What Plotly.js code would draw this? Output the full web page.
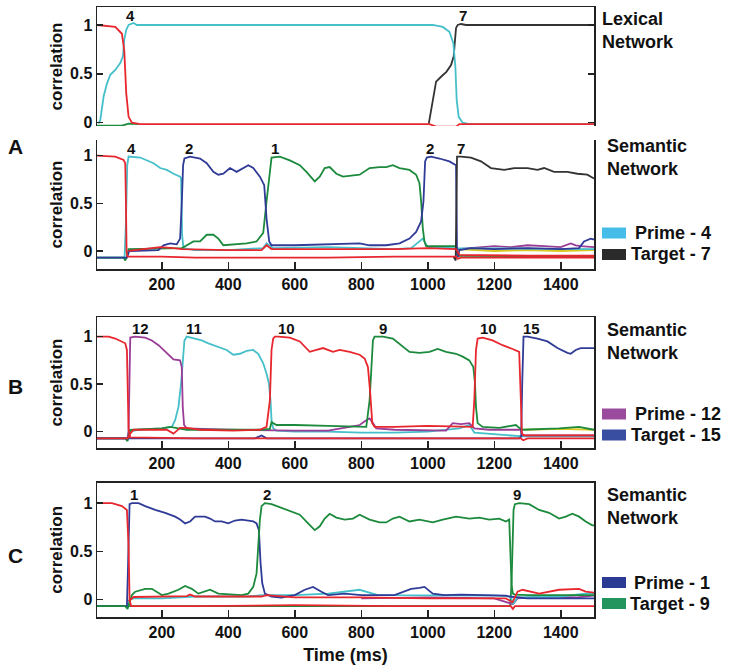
<!DOCTYPE html>
<html><head><meta charset="utf-8">
<script src="https://cdn.plot.ly/plotly-3.0.1.min.js"></script>
<style>html,body{margin:0;padding:0;background:#fff}#chart{width:729px;height:671px}</style>
</head><body><div id="chart"></div>
<script>
// ---------- DATA (time in ms, correlation values) ----------
const xTicks = [200, 400, 600, 800, 1000, 1200, 1400];
const yTicks = [0, 0.5, 1];
const yTickText = ['0', '0.5', '1'];

// Lexical network
const L_green_t = [5, 80, 90, 100, 130];
const L_green_v = [-0.03, -0.03, -0.02, -0.01, -0.014];
const L_black_t = [1003, 1010, 1017, 1025, 1040, 1056, 1070, 1078, 1082, 1085, 1090, 1100, 1115, 1500];
const L_black_v = [-0.01, 0.13, 0.30, 0.42, 0.47, 0.52, 0.59, 0.68, 0.85, 0.97, 1.0, 1.01, 1.0, 1.0];
const L_cyan_t = [10, 15, 25, 35, 45, 60, 75, 83, 87, 93, 100, 115, 125, 1015, 1045, 1065, 1077, 1083, 1087, 1093, 1105, 1125, 1500];
const L_cyan_v = [-0.01, 0.03, 0.27, 0.40, 0.49, 0.54, 0.61, 0.68, 0.85, 0.95, 1.0, 1.02, 1.0, 1.0, 0.98, 0.93, 0.81, 0.57, 0.23, 0.06, 0.0, -0.014, -0.014];
const L_red_t = [5, 40, 60, 80, 87, 93, 100, 110, 135, 1005, 1025, 1085, 1095, 1500];
const L_red_v = [1.0, 0.99, 0.98, 0.91, 0.74, 0.30, 0.06, 0.0, -0.014, -0.014, -0.04, -0.04, -0.014, -0.014];
const L_peakText = ['4', '7'];
const L_peakX = [105, 1106];

// Semantic network, A
const A_yellow_t = [1090, 1200, 1300, 1400, 1500];
const A_yellow_v = [0.02, 0.0, 0.01, 0.0, 0.01];
const A_purple_t = [1090, 1150, 1200, 1250, 1300, 1350, 1400, 1430, 1445, 1460, 1500];
const A_purple_v = [0.02, 0.04, 0.05, 0.04, 0.06, 0.05, 0.04, 0.08, 0.06, 0.05, 0.04];
const A_cyan_t = [5, 88, 92, 96, 100, 135, 175, 195, 215, 235, 255, 258, 261, 265, 300, 400, 505, 515, 535, 700, 800, 900, 950, 975, 985, 1000, 1085, 1500];
const A_cyan_v = [-0.07, -0.07, 0.3, 0.9, 0.99, 0.98, 0.92, 0.87, 0.85, 0.81, 0.78, 0.76, 0.17, 0.03, 0.01, 0.01, 0.03, 0.08, 0.03, 0.04, 0.03, 0.02, 0.03, 0.1, 0.13, 0.04, 0.03, 0.02];
const A_green_t = [5, 85, 90, 95, 100, 200, 260, 265, 270, 295, 315, 335, 355, 370, 385, 415, 455, 485, 505, 515, 523, 530, 555, 585, 615, 635, 660, 675, 690, 705, 725, 745, 795, 825, 855, 875, 895, 915, 945, 965, 975, 980, 985, 990, 995, 1085, 1090, 1500];
const A_green_v = [-0.07, -0.07, -0.1, -0.06, 0.02, 0.03, 0.03, 0.04, 0.05, 0.10, 0.10, 0.17, 0.17, 0.13, 0.06, 0.07, 0.08, 0.10, 0.19, 0.52, 0.80, 0.98, 0.99, 0.95, 0.90, 0.83, 0.73, 0.78, 0.87, 0.88, 0.81, 0.78, 0.80, 0.87, 0.88, 0.88, 0.90, 0.87, 0.85, 0.80, 0.71, 0.52, 0.24, 0.10, 0.05, 0.05, -0.05, -0.06];
const A_blue_t = [5, 95, 102, 190, 205, 225, 245, 255, 260, 264, 268, 285, 315, 335, 355, 370, 385, 405, 425, 445, 460, 475, 495, 508, 515, 523, 530, 600, 700, 795, 825, 875, 915, 945, 965, 980, 987, 992, 997, 1010, 1035, 1065, 1085, 1088, 1091, 1095, 1130, 1200, 1300, 1400, 1455, 1470, 1490, 1500];
const A_blue_v = [-0.07, -0.07, 0.0, 0.01, 0.06, 0.08, 0.07, 0.13, 0.5, 0.9, 0.97, 0.99, 0.97, 0.92, 0.83, 0.80, 0.81, 0.87, 0.83, 0.87, 0.90, 0.87, 0.78, 0.69, 0.34, 0.10, 0.06, 0.06, 0.07, 0.08, 0.06, 0.06, 0.08, 0.13, 0.2, 0.31, 0.52, 0.94, 0.98, 0.99, 0.97, 0.94, 0.90, -0.01, -0.06, 0.01, 0.03, 0.02, 0.03, 0.02, 0.03, 0.10, 0.13, 0.12];
const A_black_t = [1076, 1080, 1084, 1086, 1088, 1100, 1130, 1160, 1190, 1230, 1260, 1300, 1330, 1350, 1380, 1420, 1450, 1480, 1500];
const A_black_v = [-0.07, -0.07, -0.1, 0.5, 0.99, 0.99, 0.98, 0.94, 0.87, 0.85, 0.87, 0.87, 0.85, 0.87, 0.83, 0.83, 0.81, 0.80, 0.76];
const A_red2_t = [100, 150, 195, 235, 260, 400, 500, 515, 530, 700, 900, 1000, 1085, 1095, 1300, 1500];
const A_red2_v = [0.0, 0.02, 0.04, 0.03, 0.02, 0.01, 0.01, 0.06, 0.02, 0.02, 0.02, 0.03, 0.02, -0.04, -0.05, -0.05];
const A_red_t = [5, 60, 85, 90, 92, 94, 97, 110, 200, 300, 500, 700, 900, 1085, 1090, 1100, 1300, 1500];
const A_red_v = [1.0, 0.99, 0.955, 0.92, 0.52, -0.01, -0.06, -0.06, -0.06, -0.07, -0.07, -0.07, -0.06, -0.06, -0.08, -0.07, -0.07, -0.07];
const A_peakText = ['4', '2', '1', '2', '7'];
const A_peakX = [108, 282, 540, 1008, 1101];
const A_legend = ['Prime - 4', 'Target - 7'];

// Semantic network, B
const B_yellow_t = [1290, 1400, 1500];
const B_yellow_v = [0.02, 0.03, 0.02];
const B_cyan_t = [5, 97, 100, 130, 200, 230, 240, 250, 258, 263, 268, 275, 300, 320, 340, 370, 395, 415, 435, 455, 475, 490, 505, 515, 522, 527, 530, 535, 545, 600, 700, 800, 900, 1000, 1095, 1125, 1140, 1285, 1500];
const B_cyan_v = [-0.07, -0.07, 0.0, 0.02, 0.035, 0.05, 0.12, 0.26, 0.51, 0.75, 0.96, 1.0, 0.98, 0.96, 0.93, 0.89, 0.86, 0.81, 0.82, 0.85, 0.86, 0.82, 0.72, 0.61, 0.51, 0.33, 0.12, 0.035, 0.01, 0.0, 0.0, -0.01, -0.01, 0.0, 0.035, 0.07, -0.01, -0.05, -0.05];
const B_purple_t = [5, 97, 100, 103, 105, 120, 150, 170, 190, 205, 220, 235, 255, 260, 263, 267, 275, 400, 600, 700, 765, 795, 815, 825, 835, 845, 900, 1000, 1055, 1075, 1100, 1125, 1140, 1185, 1280, 1285, 1500];
const B_purple_v = [-0.07, -0.07, 0.0, 0.7, 0.99, 1.0, 0.99, 0.96, 0.91, 0.86, 0.81, 0.76, 0.75, 0.68, 0.26, 0.07, 0.035, 0.02, 0.01, 0.01, 0.05, 0.07, 0.12, 0.14, 0.09, 0.035, 0.02, 0.01, 0.01, 0.09, 0.08, 0.09, 0.035, 0.02, 0.02, -0.04, -0.04];
const B_green_t = [5, 90, 97, 105, 200, 225, 250, 275, 350, 415, 500, 525, 530, 545, 600, 700, 795, 815, 825, 830, 835, 840, 865, 895, 925, 945, 975, 1005, 1030, 1055, 1085, 1105, 1125, 1137, 1142, 1145, 1150, 1165, 1215, 1265, 1275, 1285, 1395, 1455, 1500];
const B_green_v = [-0.07, -0.07, -0.1, 0.02, 0.035, 0.05, 0.035, 0.02, 0.02, 0.02, 0.02, 0.03, 0.1, 0.07, 0.07, 0.06, 0.05, 0.05, 0.33, 0.68, 0.96, 1.0, 1.0, 0.98, 0.89, 0.84, 0.83, 0.84, 0.87, 0.84, 0.82, 0.79, 0.75, 0.68, 0.51, 0.26, 0.09, 0.05, 0.04, 0.07, 0.04, 0.02, 0.035, 0.05, 0.02];
const B_blue_t = [5, 480, 500, 515, 1275, 1281, 1284, 1288, 1300, 1330, 1360, 1390, 1420, 1430, 1445, 1460, 1480, 1500];
const B_blue_v = [-0.07, -0.07, -0.04, -0.07, -0.07, -0.05, 0.5, 1.0, 1.0, 0.98, 0.95, 0.88, 0.83, 0.82, 0.86, 0.88, 0.88, 0.88];
const B_red2_t = [5, 97, 105, 115, 215, 235, 255, 275, 315, 415, 495, 515, 525, 530, 535, 540, 550, 585, 615, 645, 665, 685, 715, 735, 765, 795, 810, 820, 827, 833, 840, 900, 1000, 1100, 1135, 1140, 1145, 1150, 1165, 1195, 1225, 1255, 1275, 1280, 1283, 1290, 1400, 1500];
const B_red2_v = [-0.07, -0.07, -0.02, 0.02, 0.02, -0.02, 0.04, 0.04, 0.02, 0.01, 0.02, 0.05, 0.33, 0.86, 0.98, 1.0, 1.0, 0.99, 0.95, 0.84, 0.86, 0.88, 0.84, 0.86, 0.84, 0.81, 0.77, 0.68, 0.40, 0.09, 0.05, 0.05, 0.06, 0.05, 0.05, 0.33, 0.86, 0.98, 0.99, 0.96, 0.91, 0.87, 0.84, 0.33, -0.02, -0.04, -0.04, -0.04];
const B_red_t = [5, 40, 60, 80, 90, 95, 97, 100, 105, 300, 600, 900, 1200, 1280, 1287, 1300, 1500];
const B_red_v = [1.0, 1.0, 0.98, 0.95, 0.93, 0.86, 0.33, 0.02, -0.06, -0.07, -0.07, -0.07, -0.07, -0.07, -0.09, -0.07, -0.07];
const B_peakText = ['12', '11', '10', '9', '10', '15'];
const B_peakX = [135, 298, 576, 866, 1182, 1312];
const B_legend = ['Prime - 12', 'Target - 15'];

// Semantic network, C
const C_green9_t = [5, 1248, 1252, 1255, 1258, 1262, 1275, 1305, 1335, 1365, 1395, 1415, 1435, 1455, 1475, 1495, 1500];
const C_green9_v = [-0.07, -0.07, 0.17, 0.6, 0.93, 0.99, 1.0, 0.99, 0.93, 0.9, 0.84, 0.86, 0.89, 0.86, 0.81, 0.77, 0.77];
const C_purple_t = [800, 1000, 1200, 1256, 1270, 1350, 1450, 1500];
const C_purple_v = [0.01, 0.02, 0.01, -0.05, 0.01, 0.03, 0.02, 0.04];
const C_cyan_t = [5, 97, 103, 115, 200, 300, 400, 460, 505, 600, 700, 795, 850, 900, 1000, 1100, 1200, 1250, 1256, 1270, 1400, 1475, 1500];
const C_cyan_v = [-0.07, -0.07, 0.0, 0.01, 0.01, 0.03, 0.03, 0.03, 0.045, 0.045, 0.06, 0.1, 0.045, 0.045, 0.04, 0.04, 0.04, 0.03, -0.05, 0.02, 0.03, 0.06, 0.06];
const C_blue_t = [5, 95, 98, 100, 103, 110, 130, 150, 180, 210, 240, 255, 270, 285, 300, 330, 345, 360, 380, 400, 420, 440, 460, 475, 485, 492, 497, 502, 510, 530, 560, 600, 630, 655, 680, 700, 750, 800, 900, 950, 975, 990, 1015, 1050, 1100, 1150, 1235, 1245, 1300, 1500];
const C_blue_v = [-0.07, -0.07, 0.3, 0.72, 0.99, 1.0, 1.0, 0.97, 0.93, 0.90, 0.86, 0.83, 0.79, 0.81, 0.86, 0.86, 0.84, 0.81, 0.81, 0.79, 0.82, 0.83, 0.82, 0.81, 0.79, 0.72, 0.38, 0.17, 0.06, 0.03, 0.02, 0.045, 0.1, 0.13, 0.08, 0.045, 0.06, 0.045, 0.045, 0.11, 0.12, 0.13, 0.06, 0.045, 0.05, 0.045, 0.04, 0.03, 0.01, 0.01];
const C_green_t = [5, 90, 97, 102, 110, 120, 150, 170, 185, 200, 220, 250, 270, 290, 310, 330, 345, 370, 400, 440, 460, 475, 485, 490, 495, 500, 510, 530, 560, 590, 615, 640, 660, 675, 690, 705, 725, 750, 775, 795, 825, 855, 875, 895, 915, 945, 975, 1015, 1045, 1085, 1125, 1155, 1185, 1215, 1235, 1245, 1249, 1252, 1256, 1262, 1300, 1400, 1500];
const C_green_v = [-0.07, -0.07, -0.1, -0.05, 0.045, 0.08, 0.11, 0.11, 0.08, 0.045, 0.06, 0.1, 0.14, 0.11, 0.06, 0.08, 0.1, 0.06, 0.055, 0.045, 0.06, 0.13, 0.27, 0.55, 0.83, 0.97, 1.0, 0.99, 0.95, 0.91, 0.88, 0.79, 0.72, 0.76, 0.84, 0.89, 0.85, 0.83, 0.84, 0.88, 0.83, 0.80, 0.80, 0.84, 0.86, 0.81, 0.83, 0.80, 0.83, 0.86, 0.84, 0.85, 0.83, 0.84, 0.81, 0.83, 0.5, 0.15, 0.06, 0.05, 0.045, 0.045, 0.045];
const C_red2_t = [100, 115, 275, 285, 300, 500, 515, 600, 800, 1000, 1235, 1255, 1270, 1285, 1335, 1395, 1455, 1475, 1500];
const C_red2_v = [-0.02, 0.025, 0.035, 0.05, 0.03, 0.03, 0.045, 0.02, 0.02, 0.01, 0.01, -0.03, 0.08, 0.1, 0.06, 0.1, 0.11, 0.08, 0.07];
const C_red_t = [5, 50, 80, 95, 100, 103, 108, 300, 600, 900, 1200, 1250, 1256, 1262, 1500];
const C_red_v = [1.0, 1.0, 0.97, 0.93, 0.55, -0.01, -0.07, -0.07, -0.06, -0.07, -0.07, -0.07, -0.1, -0.07, -0.07];
const C_peakText = ['1', '2', '9'];
const C_peakX = [117, 516, 1267];
const C_legend = ['Prime - 1', 'Target - 9'];

const panelLetters = ['A', 'B', 'C'];
const netLabels = ['Lexical<br>Network', 'Semantic<br>Network', 'Semantic<br>Network', 'Semantic<br>Network'];

// ---------- STYLE ----------
const COL = {red: '#e8262d', cyan: '#45bfc9', blue: '#2f3b97', green: '#1c8a3c', black: '#333333', purple: '#9a3d97', yellow: '#d9c820'};
const FONT = 'Liberation Sans, Arial, Helvetica, sans-serif';
const PL = 97, PR = 594, PT = 7, PB = 617;
const fx = px => (px - PL) / (PR - PL);
const fy = py => (PB - py) / (PB - PT);

function line(t, v, color, ax) {
  return {x: t, y: v, type: 'scatter', mode: 'lines', xaxis: 'x' + ax, yaxis: 'y' + ax,
    line: {color: color, width: 1.8}, hoverinfo: 'skip', showlegend: false};
}
const traces = [
  line(L_green_t, L_green_v, COL.green, ''),
  line(L_black_t, L_black_v, COL.black, ''),
  line(L_cyan_t, L_cyan_v, COL.cyan, ''),
  line(L_red_t, L_red_v, COL.red, ''),

  line(A_yellow_t, A_yellow_v, COL.yellow, '2'),
  line(A_purple_t, A_purple_v, COL.purple, '2'),
  line(A_cyan_t, A_cyan_v, COL.cyan, '2'),
  line(A_green_t, A_green_v, COL.green, '2'),
  line(A_blue_t, A_blue_v, COL.blue, '2'),
  line(A_black_t, A_black_v, COL.black, '2'),
  line(A_red2_t, A_red2_v, COL.red, '2'),
  line(A_red_t, A_red_v, COL.red, '2'),

  line(B_yellow_t, B_yellow_v, COL.yellow, '3'),
  line(B_cyan_t, B_cyan_v, COL.cyan, '3'),
  line(B_purple_t, B_purple_v, COL.purple, '3'),
  line(B_green_t, B_green_v, COL.green, '3'),
  line(B_blue_t, B_blue_v, COL.blue, '3'),
  line(B_red2_t, B_red2_v, COL.red, '3'),
  line(B_red_t, B_red_v, COL.red, '3'),

  line(C_green9_t, C_green9_v, COL.green, '4'),
  line(C_purple_t, C_purple_v, COL.purple, '4'),
  line(C_cyan_t, C_cyan_v, COL.cyan, '4'),
  line(C_blue_t, C_blue_v, COL.blue, '4'),
  line(C_green_t, C_green_v, COL.green, '4'),
  line(C_red2_t, C_red2_v, COL.red, '4'),
  line(C_red_t, C_red_v, COL.red, '4')
];

const tickFont = {family: FONT, size: 16, color: '#111', weight: 'bold'};
function xax(anchor, opts) {
  return Object.assign({anchor: anchor, range: [5, 1500], tickvals: xTicks, ticks: 'inside', ticklen: 7, tickwidth: 1.5,
    tickcolor: '#222', showline: true, linecolor: '#222', linewidth: 1.5, showgrid: false, zeroline: false,
    tickfont: tickFont}, opts);
}
function yax(anchor, dom, rng, mirror) {
  return {anchor: anchor, domain: dom, range: rng, tickvals: yTicks, ticktext: yTickText, ticks: 'inside', ticklen: 6,
    tickwidth: 1.5, tickcolor: '#222', showline: true, linecolor: '#222', linewidth: 1.5, mirror: mirror,
    showgrid: false, zeroline: false, tickfont: tickFont,
    title: {text: 'correlation', font: {family: FONT, size: 17, color: '#111', weight: 'bold'}, standoff: 3}};
}

const annotations = [];
function peaks(txt, xs, yv, ax) {
  txt.forEach((t, i) => annotations.push({text: t, x: xs[i], y: yv, xref: 'x' + ax, yref: 'y' + ax, showarrow: false,
    font: {family: FONT, size: 15, color: '#111', weight: 'bold'}, xanchor: 'center', yanchor: 'middle'}));
}
peaks(L_peakText, L_peakX, 1.095, '');
peaks(A_peakText, A_peakX, 1.078, '2');
peaks(B_peakText, B_peakX, 1.088, '3');
peaks(C_peakText, C_peakX, 1.086, '4');

const bigFont = {family: FONT, size: 18, color: '#111', weight: 'bold'};
const netPos = [[600, 31], [605, 157.5], [605, 341], [605, 506]];
netLabels.forEach((t, i) => annotations.push({text: t, x: fx(netPos[i][0]), y: fy(netPos[i][1]), xref: 'paper', yref: 'paper',
  showarrow: false, xanchor: 'left', yanchor: 'middle', align: 'left', font: bigFont}));

const letterPos = [[15, 146.5], [15, 386.5], [15, 555]];
panelLetters.forEach((t, i) => annotations.push({text: t, x: fx(letterPos[i][0]), y: fy(letterPos[i][1]), xref: 'paper', yref: 'paper',
  showarrow: false, xanchor: 'center', yanchor: 'middle', font: {family: FONT, size: 21, color: '#111', weight: 'bold'}}));

const shapes = [];
const legendSets = [
  {labels: A_legend, colors: ['#45bde8', '#2b2b2b'], ys: [233, 254.5], tx: [633, 629]},
  {labels: B_legend, colors: ['#9b4b9e', '#3a4ea1'], ys: [414, 435], tx: [633, 629]},
  {labels: C_legend, colors: ['#2b3a92', '#21955d'], ys: [582.5, 603.5], tx: [632, 628]}
];
legendSets.forEach(s => s.labels.forEach((lab, i) => {
  shapes.push({type: 'rect', xref: 'paper', yref: 'paper', x0: fx(602), x1: fx(626), y0: fy(s.ys[i] - 5.5), y1: fy(s.ys[i] + 5.5),
    fillcolor: s.colors[i], line: {width: 0}});
  annotations.push({text: lab, x: fx(s.tx[i]), y: fy(s.ys[i]), xref: 'paper', yref: 'paper', showarrow: false,
    xanchor: 'left', yanchor: 'middle', font: bigFont});
}));

const layout = {
  width: 729, height: 671, margin: {l: PL, r: 729 - PR, t: PT, b: 671 - PB},
  paper_bgcolor: '#fff', plot_bgcolor: '#fff', showlegend: false,
  xaxis: xax('y', {side: 'top', ticks: '', showticklabels: false}),
  yaxis: yax('x', [fy(126), 1], [-0.034, 1.184], 'ticks'),
  xaxis2: xax('y2', {}),
  yaxis2: yax('x2', [fy(269), fy(140)], [-0.189, 1.164], true),
  xaxis3: xax('y3', {mirror: true}),
  yaxis3: yax('x3', [fy(448), fy(317)], [-0.172, 1.207], true),
  xaxis4: xax('y4', {mirror: true, title: {text: 'Time (ms)', font: {family: FONT, size: 18, color: '#111', weight: 'bold'}, standoff: 8}}),
  yaxis4: yax('x4', [0, fy(482.7)], [-0.183, 1.213], true),
  annotations: annotations, shapes: shapes
};
Plotly.newPlot('chart', traces, layout, {staticPlot: true, displayModeBar: false});
</script></body></html>
